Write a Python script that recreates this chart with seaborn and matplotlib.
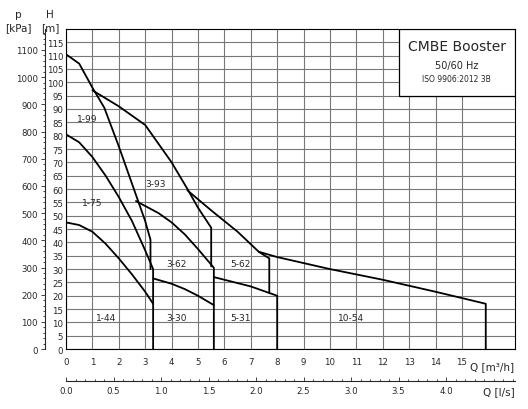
import numpy as np
import matplotlib
matplotlib.use("Agg")
import matplotlib.pyplot as plt
import seaborn as sns
from matplotlib.ticker import MultipleLocator

sns.set_style("white")
plt.rcParams['font.family'] = ['DejaVu Sans']

# --- curve data (Q [m3/h], H [m]) ---
q_199 = [0, 0.5, 1.0, 1.45, 2.0, 2.5, 3.0, 3.2, 3.2]
h_199 = [110.5, 107, 98, 90.5, 76, 62, 48, 41, 30]
q_175 = [0, 0.5, 1.0, 1.5, 2.0, 2.5, 3.0, 3.3, 3.3]
h_175 = [80.5, 77.5, 72, 65, 57, 48, 37, 30, 0]
q_144 = [0, 0.5, 1.0, 1.5, 2.0, 2.5, 3.0, 3.3]
h_144 = [47.5, 46.5, 44, 39.5, 34, 28, 21.5, 17]
q_393 = [1.0, 2.0, 3.0, 3.5, 4.0, 4.6, 5.0, 5.5, 5.5]
h_393 = [97, 91, 84, 77, 70, 60, 53, 45.5, 31]
q_362 = [2.65, 3.5, 4.0, 4.5, 5.0, 5.6, 5.6]
h_362 = [55.5, 51, 47.5, 43, 37.5, 30.5, 0]
q_330 = [3.3, 4.0, 4.5, 5.0, 5.6]
h_330 = [26.5, 24.5, 22.5, 20, 16.5]
q_562 = [4.6, 5.5, 6.5, 7.3, 7.7, 7.7]
h_562 = [59.5, 52, 44, 36.5, 34, 21]
q_531 = [5.6, 7.0, 8.0, 8.0]
h_531 = [27, 23.5, 20, 0]
q_1054 = [7.3, 8.0, 10.0, 12.0, 14.0, 15.9, 15.9]
h_1054 = [36.5, 34.5, 30, 26, 21.5, 17, 0]

labels = ["1-99", "1-75", "1-44", "3-93", "3-62", "3-30", "5-62", "5-31", "10-54"]
label_q = [0.8, 1.0, 1.5, 3.4, 4.2, 4.2, 6.6, 6.6, 10.8]
label_h = [86.5, 55, 12, 62, 32, 12, 32, 12, 12]

fig = plt.figure(figsize=(5.28, 4.10), dpi=100)
ax = fig.add_axes([0.125, 0.146, 0.85, 0.781])

for q, h in [(q_199, h_199), (q_175, h_175), (q_144, h_144), (q_393, h_393),
             (q_362, h_362), (q_330, h_330), (q_562, h_562), (q_531, h_531),
             (q_1054, h_1054)]:
    sns.lineplot(x=q, y=h, ax=ax, color="black", lw=1.3, sort=False, estimator=None)

for t, x, y in zip(labels, label_q, label_h):
    ax.text(x, y, t, fontsize=6.5, ha="center", va="center")

ax.set_xlim(0, 17)
ax.set_ylim(0, 120)
ax.xaxis.set_minor_locator(MultipleLocator(0.5))
ax.yaxis.set_minor_locator(MultipleLocator(1))
ax.set_xticks(range(0, 16))
ax.set_yticks(range(0, 120, 5))
ax.set_xticklabels([str(i) for i in range(16)])
ax.set_yticklabels([str(i) for i in range(0, 120, 5)])
ax.grid(True, which="major", color="#777777", lw=0.8)
ax.set_axisbelow(True)
for s in ax.spines.values():
    s.set_color("black")
    s.set_linewidth(0.8)
ax.tick_params(which="both", direction="in", length=3, labelsize=6.2, width=0.6)
ax.tick_params(which="minor", length=2)
ax.tick_params(axis="x", pad=6)
ax.tick_params(axis="y", pad=2)

# pressure axis
pax = ax.secondary_yaxis(-0.047, functions=(lambda h: h * 9.81, lambda p: p / 9.81))
pax.yaxis.set_minor_locator(MultipleLocator(20))
pax.set_yticks(range(0, 1200, 100))
pax.tick_params(which="both", direction="out", length=3, labelsize=6.2, width=0.6, pad=2)
pax.tick_params(which="minor", length=1.5)

# l/s axis
lax = ax.secondary_xaxis(-0.1, functions=(lambda q: q / 3.6, lambda l: l * 3.6))
lax.xaxis.set_minor_locator(MultipleLocator(0.1))
lax.set_xticks(np.arange(0, 4.5, 0.5))
lax.set_xticklabels([f"{v:.1f}" for v in np.arange(0, 4.5, 0.5)])
lax.tick_params(which="both", direction="in", length=3, labelsize=6.2, width=0.6)
lax.tick_params(which="minor", length=1.5)
lax.spines["bottom"].set_linewidth(0.8)

fig.text(0.034, 0.955, "p", fontsize=7.5, ha="center")
fig.text(0.034, 0.925, "[kPa]", fontsize=7.5, ha="center")
fig.text(0.095, 0.955, "H", fontsize=7.5, ha="center")
fig.text(0.095, 0.925, "[m]", fontsize=7.5, ha="center")
ax.text(16.98, -6.4, "Q [m³/h]", fontsize=7.5, ha="right", va="center", clip_on=False)
ax.text(16.98, -15.7, "Q [l/s]", fontsize=7.5, ha="right", va="center", clip_on=False)

# title box
ax.add_patch(plt.Rectangle((12.6, 95), 4.4, 25, facecolor="white", edgecolor="black", lw=0.9, zorder=3))
ax.text(14.8, 113.5, "CMBE Booster", fontsize=10, ha="center", va="center", zorder=4)
ax.text(14.8, 106.5, "50/60 Hz", fontsize=7, ha="center", va="center", zorder=4)
ax.text(14.8, 101.5, "ISO 9906:2012 3B", fontsize=5.5, ha="center", va="center", zorder=4)

fig.savefig("out.png", dpi=100)
